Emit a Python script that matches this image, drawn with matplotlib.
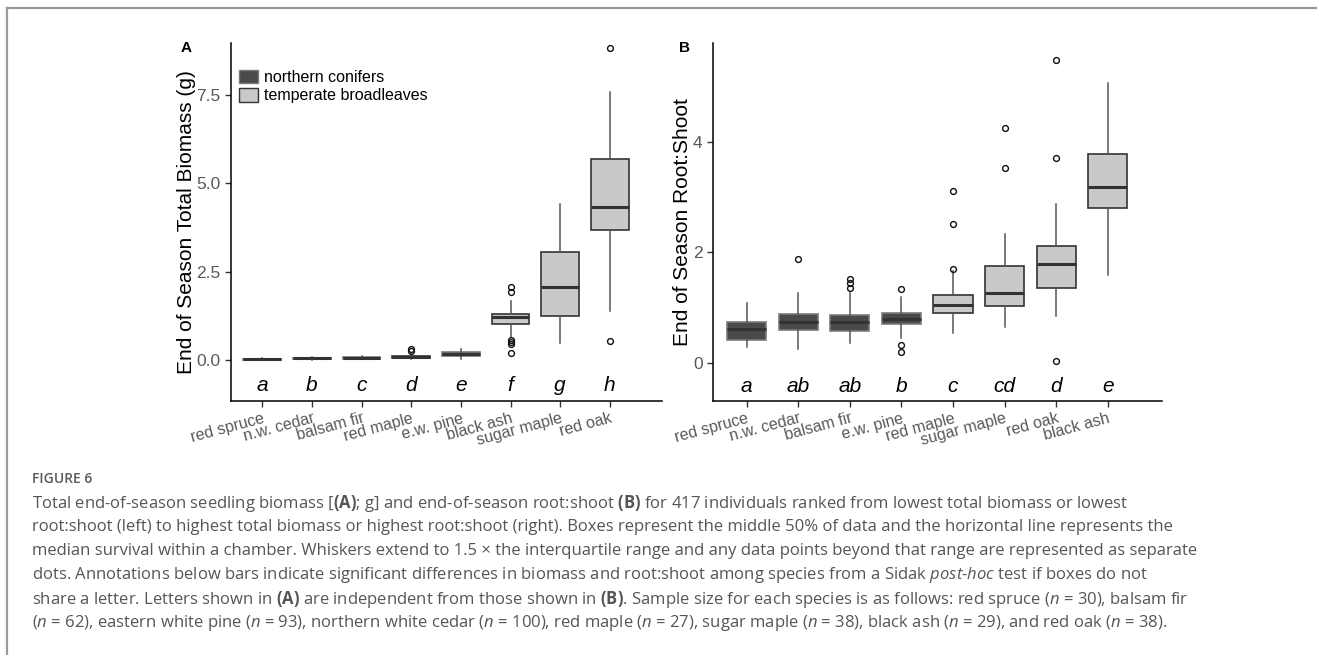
import matplotlib
matplotlib.use("Agg")
import matplotlib.pyplot as plt
from matplotlib.patches import Patch
from matplotlib.lines import Line2D

plt.rcParams['font.family'] = ['Liberation Sans', 'DejaVu Sans']
plt.rcParams['mathtext.fontset'] = 'custom'
plt.rcParams['mathtext.rm'] = 'Open Sans'
plt.rcParams['mathtext.it'] = 'Open Sans:italic'
plt.rcParams['mathtext.bf'] = 'Open Sans:bold'

# ---------------- Panel A data: total biomass (g) ----------------
species_a = ["red spruce", "n.w. cedar", "balsam fir", "red maple", "e.w. pine",
             "black ash", "sugar maple", "red oak"]
group_a = ["con", "con", "con", "broad", "con", "broad", "broad", "broad"]
q1_a = [0.01, 0.03, 0.04, 0.06, 0.12, 1.02, 1.25, 3.68]
med_a = [0.02, 0.05, 0.06, 0.09, 0.17, 1.23, 2.06, 4.34]
q3_a = [0.03, 0.06, 0.08, 0.12, 0.23, 1.30, 3.07, 5.69]
wlo_a = [0.00, 0.01, 0.02, 0.02, 0.02, 0.64, 0.49, 1.39]
whi_a = [0.05, 0.09, 0.10, 0.17, 0.30, 1.68, 4.42, 7.57]
fliers_a = [[], [], [], [0.25, 0.31], [], [2.07, 1.93, 0.57, 0.50, 0.44, 0.19], [], [8.82, 0.53]]
letters_a = ["a", "b", "c", "d", "e", "f", "g", "h"]

# ---------------- Panel B data: root:shoot ----------------
species_b = ["red spruce", "n.w. cedar", "balsam fir", "e.w. pine", "red maple",
             "sugar maple", "red oak", "black ash"]
group_b = ["con", "con", "con", "con", "broad", "broad", "broad", "broad"]
q1_b = [0.42, 0.59, 0.58, 0.71, 0.90, 1.02, 1.36, 2.81]
med_b = [0.61, 0.73, 0.73, 0.80, 1.05, 1.27, 1.79, 3.19]
q3_b = [0.73, 0.88, 0.87, 0.91, 1.22, 1.75, 2.12, 3.79]
wlo_b = [0.29, 0.24, 0.35, 0.44, 0.53, 0.64, 0.85, 1.59]
whi_b = [1.09, 1.26, 1.26, 1.19, 1.66, 2.34, 2.88, 5.07]
fliers_b = [[], [1.88], [1.52, 1.44, 1.35], [1.34, 0.33, 0.19], [1.70, 2.52, 3.12],
            [3.53, 4.25], [5.50, 3.71, 0.03], []]
letters_b = ["a", "ab", "ab", "b", "c", "cd", "d", "e"]

legend_labels = ["northern conifers", "temperate broadleaves"]
fill_colors = {"con": "#4a4a4a", "broad": "#c9c9c9"}

W, H = 1319, 655
fig = plt.figure(figsize=(W / 100, H / 100), dpi=100)

TICK_COLOR = "#595959"


def px_axes(left, top, right, bottom):
    return fig.add_axes([left / W, 1 - bottom / H, (right - left) / W, (bottom - top) / H])


def draw_panel(ax, species, group, q1, med, q3, wlo, whi, fliers, letters, ylim, yticks,
               yticklabels, ylabel, letter_y, xlim):
    stats = []
    for i in range(len(species)):
        stats.append(dict(q1=q1[i], med=med[i], q3=q3[i], whislo=wlo[i], whishi=whi[i],
                          fliers=fliers[i], label=species[i]))
    bp = ax.bxp(stats, positions=range(len(species)), widths=0.76, patch_artist=True,
                showcaps=False,
                boxprops=dict(linewidth=1.2),
                whiskerprops=dict(color="#555555", linewidth=1.1),
                medianprops=dict(color="#333333", linewidth=2.2),
                flierprops=dict(marker="o", markersize=4.2, markerfacecolor="none",
                                markeredgecolor="#111111", markeredgewidth=1.0))
    for patch, g in zip(bp["boxes"], group):
        patch.set_facecolor(fill_colors[g])
        patch.set_edgecolor("#333333" if g == "broad" else "#7a7a7a")
    for i, l in enumerate(letters):
        ax.text(i, letter_y, l, ha="center", va="center", fontsize=15, style="italic",
                color="black")
    ax.set_xlim(*xlim)
    ax.set_ylim(*ylim)
    ax.set_yticks(yticks)
    ax.set_yticklabels(yticklabels)
    ax.set_xticks(range(len(species)))
    ax.set_xticklabels(species, rotation=15, ha="right", rotation_mode="anchor")
    for s in ["top", "right"]:
        ax.spines[s].set_visible(False)
    for s in ["left", "bottom"]:
        ax.spines[s].set_linewidth(1.1)
        ax.spines[s].set_color("black")
    ax.tick_params(axis="both", colors="#333333", labelcolor=TICK_COLOR, labelsize=12.5,
                   length=4, width=1.0)
    ax.tick_params(axis="x", pad=3, labelsize=11.5)
    ax.set_ylabel(ylabel, fontsize=15, color="black", labelpad=0.5)


axA = px_axes(231, 43, 662, 401)
draw_panel(axA, species_a, group_a, q1_a, med_a, q3_a, wlo_a, whi_a, fliers_a, letters_a,
           (-1.16, 8.97), [0, 2.5, 5, 7.5], ["0.0", "2.5", "5.0", "7.5"],
           "End of Season Total Biomass (g)", -0.73, (-0.63, 8.05))

axB = px_axes(713, 43, 1162, 401)
draw_panel(axB, species_b, group_b, q1_b, med_b, q3_b, wlo_b, whi_b, fliers_b, letters_b,
           (-0.695, 5.80), [0, 2, 4], ["0", "2", "4"],
           "End of Season Root:Shoot", -0.435, (-0.65, 8.05))

handles = [Patch(facecolor=fill_colors["con"], edgecolor="#7a7a7a", linewidth=1.0),
           Patch(facecolor=fill_colors["broad"], edgecolor="#333333", linewidth=1.0)]
axA.legend(handles, legend_labels, loc="upper left", bbox_to_anchor=(0.0, 0.947),
           frameon=False, fontsize=11.5, handlelength=1.2, handleheight=0.9,
           handletextpad=0.35, labelspacing=0.2, borderpad=0.2, borderaxespad=0.3)

fig.text(181 / W, 1 - 48 / H, "A", fontsize=11, fontweight="bold", ha="left", va="center")
fig.text(679 / W, 1 - 48 / H, "B", fontsize=11, fontweight="bold", ha="left", va="center")

# figure frame lines
fig.add_artist(Line2D([7 / W, 7 / W], [0, 1 - 7.5 / H], transform=fig.transFigure,
                      color="#9a9a9a", linewidth=1.6))
fig.add_artist(Line2D([7 / W, 1316 / W], [1 - 7.5 / H, 1 - 7.5 / H], transform=fig.transFigure,
                      color="#9a9a9a", linewidth=1.6))

CAP = "#555555"
fig.text(32 / W, 1 - 479 / H, "FIGURE 6", fontsize=10, color="#5a5a5a", ha="left",
         va="center", family="Open Sans", fontweight="semibold")
caption = [
    r"Total end-of-season seedling biomass [$\mathbf{(A)}$; g] and end-of-season root:shoot $\mathbf{(B)}$ for 417 individuals ranked from lowest total biomass or lowest",
    r"root:shoot (left) to highest total biomass or highest root:shoot (right). Boxes represent the middle 50% of data and the horizontal line represents the",
    r"median survival within a chamber. Whiskers extend to 1.5 × the interquartile range and any data points beyond that range are represented as separate",
    r"dots. Annotations below bars indicate significant differences in biomass and root:shoot among species from a Sidak $\mathit{post}$-$\mathit{hoc}$ test if boxes do not",
    r"share a letter. Letters shown in $\mathbf{(A)}$ are independent from those shown in $\mathbf{(B)}$. Sample size for each species is as follows: red spruce ($\mathit{n}$ = 30), balsam fir",
    r"($\mathit{n}$ = 62), eastern white pine ($\mathit{n}$ = 93), northern white cedar ($\mathit{n}$ = 100), red maple ($\mathit{n}$ = 27), sugar maple ($\mathit{n}$ = 38), black ash ($\mathit{n}$ = 29), and red oak ($\mathit{n}$ = 38).",
]
for k, line in enumerate(caption):
    fig.text(32 / W, 1 - (503 + 24 * k) / H, line, fontsize=12.0, color=CAP, ha="left",
             va="center", family="Open Sans")

fig.savefig("out.png", dpi=100)
